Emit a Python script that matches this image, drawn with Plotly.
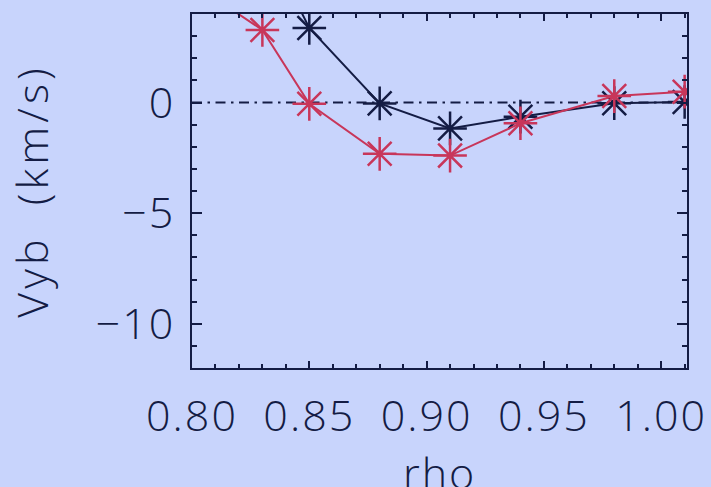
import plotly.graph_objects as go

# Radial profile of Vyb for two cases
rho_a = [0.83, 0.85, 0.88, 0.91, 0.94, 0.98, 1.01]
vyb_a = [7.6, 3.37, -0.04, -1.17, -0.64, -0.03, 0.02]

rho_b = [0.80, 0.83, 0.85, 0.88, 0.91, 0.94, 0.98, 1.01]
vyb_b = [5.4, 3.28, -0.06, -2.32, -2.40, -0.94, 0.29, 0.49]

x_ticks = [0.80, 0.85, 0.90, 0.95, 1.00]
x_labels = ["0.80", "0.85", "0.90", "0.95", "1.00"]
y_ticks = [0, -5, -10]

BG = "#c8d4fc"
NAVY = "#141c44"
RED = "#c8365a"
FONT = "Open Sans"
FSIZE = 43

fig = go.Figure()

# zero reference line
fig.add_trace(go.Scatter(
    x=[0.80, 1.011], y=[0, 0], mode="lines",
    line=dict(color=NAVY, width=2, dash="10px,5.5px,2.5px,5.5px"),
    hoverinfo="skip", showlegend=False,
))

fig.add_trace(go.Scatter(
    x=rho_a, y=vyb_a, mode="lines+markers",
    line=dict(color=NAVY, width=2),
    marker=dict(symbol="asterisk-open", size=28, color=NAVY,
                line=dict(color=NAVY, width=2.5)),
    showlegend=False,
))

fig.add_trace(go.Scatter(
    x=rho_b, y=vyb_b, mode="lines+markers",
    line=dict(color=RED, width=2),
    marker=dict(symbol="asterisk-open", size=28, color=RED,
                line=dict(color=RED, width=2.5)),
    showlegend=False,
))

tick_font = dict(family=FONT, size=FSIZE, color=NAVY, weight=300)

axis_common = dict(
    showgrid=False, zeroline=False, showline=True, linecolor=NAVY, linewidth=2,
    mirror="allticks", ticks="inside", tickcolor=NAVY, tickwidth=1.5,
    tickfont=tick_font, automargin=False,
)

fig.update_xaxes(
    **axis_common, range=[0.80, 1.011], tickvals=x_ticks, ticktext=x_labels,
    ticklen=7, ticklabelstandoff=9,
    minor=dict(dtick=0.01, tick0=0.8, ticks="inside", ticklen=4, tickcolor=NAVY, tickwidth=1.5),
)
fig.update_yaxes(
    **axis_common, range=[-12, 4], tickvals=y_ticks,
    ticklen=10, ticklabelstandoff=6,
    minor=dict(dtick=1, tick0=0, ticks="inside", ticklen=5, tickcolor=NAVY, tickwidth=1.5),
    title=dict(text="Vyb  (km/s)", font=tick_font, standoff=40),
)

# x-axis title sits low, partly past the lower edge of the page
fig.add_annotation(
    text="rho", xref="paper", yref="paper", x=0.5, y=0,
    xanchor="center", yanchor="top", yshift=-73, showarrow=False,
    font=tick_font,
)

fig.update_layout(
    width=711, height=487,
    margin=dict(l=192, r=24, t=14, b=119),
    paper_bgcolor=BG, plot_bgcolor=BG,
    showlegend=False,
)

# wider letter spacing for the axis texts
letter_spacing = (
    "document.querySelectorAll('.xtick text, .ytick text, .annotation-text')"
    ".forEach(function(t){t.style.letterSpacing='2px';});"
    "document.querySelectorAll('.g-ytitle text')"
    ".forEach(function(t){t.style.letterSpacing='4px';});"
)

fig.write_html("out.html", post_script=letter_spacing)
